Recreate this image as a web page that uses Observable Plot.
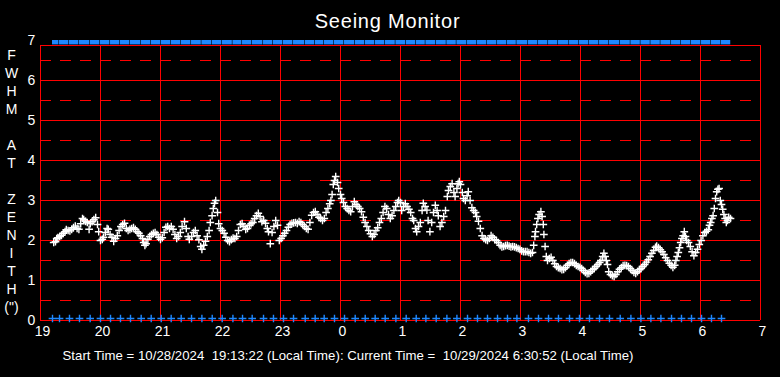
<!DOCTYPE html>
<html>
<head>
<meta charset="utf-8">
<script src="https://cdn.jsdelivr.net/npm/d3@7"></script>
<script src="https://cdn.jsdelivr.net/npm/@observablehq/plot@0.6"></script>
<style>
  html, body { margin: 0; padding: 0; background: #000; }
  svg text { white-space: pre; }
  .title-text text { letter-spacing: 0.8px; }
  .caption-text text { letter-spacing: 0.03px; }
</style>
</head>
<body>
<div id="chart"></div>
<script>
// ---- Data (decimal hours; values after midnight are 24+) ----
const title = "Seeing Monitor";
const caption = "Start Time = 10/28/2024  19:13:22 (Local Time): Current Time =  10/29/2024 6:30:52 (Local Time)";
const yAxisLabel = "F\nW\nH\nM\n\nA\nT\n\nZ\nE\nN\nI\nT\nH\n(\")";
const xTicks = [19, 20, 21, 22, 23, 24, 25, 26, 27, 28, 29, 30, 31];
const yTicks = [0, 1, 2, 3, 4, 5, 6, 7];
const yHalfTicks = [0.5, 1.5, 2.5, 3.5, 4.5, 5.5, 6.5];
const endTime = 30.514;

// FWHM at zenith samples [hour, arcsec]
const seeing = [
  [19.22,1.95],[19.25,1.97],[19.27,2.05],[19.29,2.07],[19.32,2.1],[19.35,2.13],[19.38,2.18],[19.41,2.22],
  [19.43,2.27],[19.46,2.25],[19.49,2.24],[19.52,2.28],[19.55,2.32],[19.58,2.36],[19.61,2.3],[19.64,2.28],
  [19.67,2.42],[19.7,2.55],[19.72,2.52],[19.75,2.48],[19.78,2.45],[19.81,2.28],[19.83,2.42],[19.86,2.47],
  [19.89,2.52],[19.92,2.57],[19.95,2.4],[19.97,2.22],[20.0,2.0],[20.03,2.03],[20.05,2.08],[20.08,2.2],
  [20.11,2.3],[20.13,2.28],[20.16,2.15],[20.19,2.08],[20.22,1.98],[20.25,2.05],[20.28,2.12],[20.31,2.25],
  [20.34,2.35],[20.37,2.4],[20.4,2.43],[20.43,2.3],[20.46,2.25],[20.49,2.28],[20.52,2.3],[20.55,2.32],
  [20.58,2.28],[20.61,2.22],[20.64,2.18],[20.67,2.12],[20.7,2.05],[20.72,1.95],[20.74,1.88],[20.76,1.92],
  [20.79,2.03],[20.82,2.1],[20.85,2.15],[20.88,2.18],[20.91,2.2],[20.94,2.15],[20.97,2.08],[21.0,2.03],
  [21.03,2.07],[21.06,2.2],[21.09,2.33],[21.12,2.35],[21.15,2.3],[21.18,2.35],[21.21,2.28],[21.24,2.15],
  [21.27,2.05],[21.3,2.1],[21.33,2.2],[21.36,2.35],[21.4,2.47],[21.43,2.3],[21.46,2.1],[21.48,2.03],
  [21.52,2.1],[21.55,2.2],[21.58,2.25],[21.61,2.12],[21.64,2.02],[21.67,1.85],[21.69,1.78],[21.72,1.88],
  [21.75,1.98],[21.78,2.1],[21.81,2.25],[21.83,2.45],[21.86,2.62],[21.88,2.8],[21.9,2.93],[21.92,3.0],
  [21.95,2.7],[21.97,2.42],[22.0,2.3],[22.03,2.25],[22.06,2.18],[22.09,2.08],[22.12,2.0],[22.15,1.97],
  [22.18,2.02],[22.21,2.06],[22.24,2.05],[22.27,2.1],[22.3,2.25],[22.33,2.4],[22.36,2.42],[22.39,2.35],
  [22.42,2.28],[22.45,2.3],[22.48,2.38],[22.51,2.42],[22.54,2.45],[22.57,2.55],[22.6,2.62],[22.63,2.68],
  [22.66,2.6],[22.69,2.47],[22.72,2.5],[22.75,2.43],[22.78,2.3],[22.8,2.22],[22.83,1.92],[22.86,2.2],
  [22.89,2.35],[22.92,2.5],[22.95,2.38],[22.98,2.0],[23.01,2.05],[23.04,2.12],[23.07,2.18],[23.1,2.25],
  [23.13,2.33],[23.16,2.4],[23.19,2.43],[23.22,2.44],[23.25,2.45],[23.28,2.43],[23.31,2.47],[23.34,2.45],
  [23.37,2.4],[23.4,2.35],[23.43,2.3],[23.46,2.28],[23.49,2.45],[23.52,2.63],[23.55,2.7],[23.58,2.72],
  [23.61,2.65],[23.64,2.58],[23.67,2.55],[23.7,2.5],[23.73,2.55],[23.76,2.7],[23.79,2.8],[23.82,2.92],
  [23.84,3.0],[23.86,3.15],[23.88,3.4],[23.9,3.5],[23.92,3.6],[23.95,3.45],[23.97,3.3],[24.0,3.15],
  [24.02,3.05],[24.05,2.95],[24.08,2.85],[24.11,2.8],[24.14,2.75],[24.17,2.72],[24.2,2.85],[24.23,2.97],
  [24.26,2.9],[24.29,2.85],[24.32,2.8],[24.35,2.72],[24.38,2.58],[24.41,2.45],[24.44,2.35],[24.47,2.25],
  [24.5,2.17],[24.53,2.1],[24.56,2.15],[24.59,2.25],[24.62,2.32],[24.65,2.45],[24.68,2.55],[24.71,2.7],
  [24.74,2.85],[24.77,2.8],[24.8,2.65],[24.83,2.55],[24.86,2.62],[24.89,2.75],[24.92,2.85],[24.95,2.95],
  [24.97,3.0],[25.0,2.95],[25.02,2.75],[25.05,2.85],[25.08,2.92],[25.11,2.85],[25.14,2.78],[25.17,2.7],
  [25.2,2.55],[25.22,2.5],[25.25,2.3],[25.27,2.22],[25.3,2.35],[25.33,2.45],[25.36,2.75],[25.38,2.93],
  [25.41,2.85],[25.44,2.76],[25.46,2.5],[25.49,2.22],[25.52,2.45],[25.55,2.7],[25.58,2.88],[25.61,2.75],
  [25.63,2.62],[25.66,2.35],[25.69,2.45],[25.72,2.6],[25.75,2.75],[25.78,3.1],[25.8,3.25],[25.83,3.35],
  [25.86,3.42],[25.89,3.2],[25.91,3.1],[25.94,3.3],[25.96,3.42],[25.98,3.47],[26.0,3.4],[26.03,3.2],
  [26.05,3.05],[26.08,3.0],[26.11,3.12],[26.13,3.22],[26.16,3.0],[26.19,2.82],[26.22,2.75],[26.25,2.7],
  [26.27,2.6],[26.3,2.48],[26.33,2.3],[26.36,2.12],[26.39,2.05],[26.42,2.02],[26.45,2.0],[26.48,2.05],
  [26.51,2.12],[26.54,2.08],[26.57,2.02],[26.6,2.0],[26.63,1.95],[26.66,1.88],[26.69,1.84],[26.72,1.85],
  [26.75,1.87],[26.78,1.88],[26.81,1.86],[26.84,1.84],[26.87,1.85],[26.9,1.84],[26.93,1.82],[26.96,1.8],
  [26.99,1.78],[27.02,1.74],[27.05,1.72],[27.08,1.72],[27.11,1.72],[27.14,1.7],[27.17,1.68],[27.2,1.7],
  [27.22,1.88],[27.24,2.1],[27.25,2.22],[27.27,2.4],[27.29,2.55],[27.31,2.65],[27.34,2.72],[27.36,2.6],
  [27.38,2.4],[27.39,2.15],[27.41,1.85],[27.43,1.6],[27.45,1.5],[27.48,1.55],[27.51,1.58],[27.54,1.5],
  [27.57,1.42],[27.6,1.35],[27.63,1.32],[27.66,1.3],[27.69,1.27],[27.72,1.28],[27.75,1.32],[27.78,1.38],
  [27.81,1.42],[27.84,1.45],[27.87,1.45],[27.9,1.42],[27.93,1.38],[27.96,1.35],[27.99,1.33],[28.02,1.3],
  [28.05,1.25],[28.08,1.2],[28.11,1.17],[28.14,1.18],[28.17,1.22],[28.2,1.27],[28.23,1.3],[28.26,1.35],
  [28.29,1.4],[28.32,1.45],[28.34,1.5],[28.37,1.6],[28.39,1.68],[28.41,1.6],[28.43,1.5],[28.45,1.4],
  [28.47,1.22],[28.5,1.15],[28.53,1.12],[28.56,1.1],[28.59,1.15],[28.62,1.22],[28.65,1.28],[28.68,1.32],
  [28.71,1.37],[28.74,1.38],[28.77,1.37],[28.8,1.35],[28.83,1.3],[28.86,1.25],[28.89,1.2],[28.92,1.18],
  [28.95,1.22],[28.98,1.27],[29.01,1.3],[29.04,1.35],[29.07,1.4],[29.1,1.46],[29.13,1.52],[29.16,1.6],
  [29.19,1.68],[29.22,1.75],[29.25,1.83],[29.27,1.86],[29.3,1.82],[29.33,1.77],[29.36,1.72],[29.39,1.65],
  [29.42,1.57],[29.45,1.5],[29.48,1.43],[29.51,1.38],[29.54,1.33],[29.57,1.38],[29.59,1.5],[29.61,1.6],
  [29.63,1.7],[29.65,1.82],[29.67,1.95],[29.69,2.05],[29.71,2.12],[29.73,2.22],[29.75,2.1],[29.77,2.0],
  [29.8,1.95],[29.83,1.85],[29.86,1.72],[29.89,1.62],[29.92,1.7],[29.95,1.78],[29.98,1.9],[30.01,2.0],
  [30.04,2.12],[30.07,2.2],[30.1,2.23],[30.13,2.27],[30.15,2.38],[30.17,2.45],[30.19,2.55],[30.21,2.62],
  [30.23,2.8],[30.25,3.05],[30.27,3.22],[30.29,3.28],[30.31,3.3],[30.33,3.0],[30.35,2.9],[30.37,2.78],
  [30.39,2.65],[30.41,2.55],[30.43,2.45],[30.45,2.5],[30.47,2.58],[30.5,2.55]
];

// Status marker times (blue), read from the bottom row
const statusTimes = [
  19.2,19.317,19.483,19.65,19.828,20.0,20.167,20.333,20.5,20.678,20.845,21.012,21.178,21.345,21.517,
  21.69,21.862,22.028,22.207,22.367,22.528,22.717,22.883,23.05,23.217,23.412,23.578,23.728,23.9,24.067,
  24.245,24.412,24.578,24.745,24.923,25.095,25.262,25.423,25.595,25.773,25.94,26.117,26.283,26.45,26.617,
  26.783,26.94,27.133,27.3,27.467,27.633,27.817,27.983,28.15,28.317,28.483,28.662,28.84,29.007,29.173,
  29.34,29.517,29.683,29.85,30.017,30.183,30.35
];

// ---- Styles ----
const red = "#ff0000";
const blue = "#1e88ff";
const frameTop = 6.875;
const fontFamily = "'Liberation Sans', Arial, sans-serif";

const points = seeing.map(([t, v]) => ({t, v}));
const blocks = statusTimes.map((t, i) => ({x1: t, x2: i + 1 < statusTimes.length ? statusTimes[i + 1] : endTime}));

const chart = Plot.plot({
  width: 780,
  height: 377,
  marginLeft: 40,
  marginRight: 20,
  marginTop: 40,
  marginBottom: 57,
  x: {domain: [19, 31], axis: null},
  y: {domain: [0, 7], axis: null},
  style: {background: "#000", fontFamily: fontFamily, color: "#fff"},
  marks: [
    Plot.ruleY(yHalfTicks, {x1: 19, x2: 31, stroke: red, strokeWidth: 1, strokeDasharray: "11,9"}),
    Plot.ruleY(yTicks.filter(d => d < 7), {x1: 19, x2: 31, stroke: red, strokeWidth: 1}),
    Plot.ruleY([frameTop], {x1: 19, x2: 31, stroke: red, strokeWidth: 1}),
    Plot.ruleX(xTicks, {y1: 0, y2: frameTop, stroke: red, strokeWidth: 1}),
    Plot.rect(blocks, {x1: "x1", x2: "x2", y1: 6.89, y2: 7, fill: blue, insetRight: 0.6}),
    Plot.dot(statusTimes, {x: d => d, y: 0.05, symbol: "plus", r: 2.6, stroke: blue, strokeWidth: 1.4}),
    Plot.dot(points, {x: "t", y: "v", symbol: "plus", r: 2.6, stroke: "#fff", strokeWidth: 1.4}),
    Plot.text(yTicks, {x: 19, y: d => d, text: d => String(d), dx: -9, textAnchor: "middle", fill: "#fff", fontSize: 14}),
    Plot.text(xTicks, {x: d => d, y: 0, text: d => String(d % 24), dx: 2, dy: 11, textAnchor: "middle", fill: "#fff", fontSize: 14}),
    Plot.text([yAxisLabel], {frameAnchor: "left", dx: -29, textAnchor: "middle", lineAnchor: "middle", lineHeight: 1.286, fill: "#fff", fontSize: 14}),
    Plot.text([title], {frameAnchor: "top", dy: -19, dx: -13, lineAnchor: "middle", fill: "#fff", fontSize: 20, className: "title-text"}),
    Plot.text([caption], {frameAnchor: "bottom-left", dx: 22, dy: 35, textAnchor: "start", lineAnchor: "middle", fill: "#fff", fontSize: 13.2, className: "caption-text"})
  ]
});

document.getElementById("chart").appendChild(chart);
</script>
</body>
</html>
